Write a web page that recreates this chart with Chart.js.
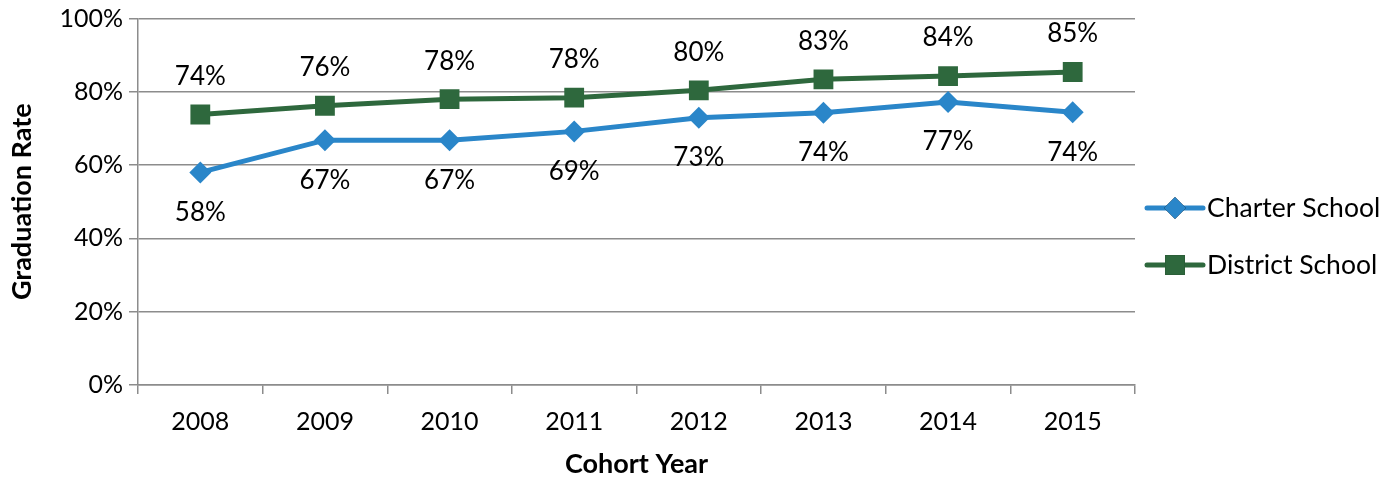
<!DOCTYPE html>
<html>
<head>
<meta charset="utf-8">
<script src="https://cdn.jsdelivr.net/npm/chart.js@4.4.1/dist/chart.umd.min.js"></script>
<style>
  html, body { margin: 0; padding: 0; background: #ffffff; }
  #wrap { width: 1400px; height: 480px; position: relative; }
</style>
</head>
<body>
<div id="wrap"><canvas id="c" width="1400" height="480"></canvas></div>
<script>
const years = ['2008', '2009', '2010', '2011', '2012', '2013', '2014', '2015'];
const charterRates = [58.0, 66.8, 66.8, 69.2, 72.9, 74.3, 77.2, 74.4];
const districtRates = [73.8, 76.2, 78.0, 78.4, 80.4, 83.4, 84.3, 85.4];
const seriesNames = ['Charter School', 'District School'];
const yTicks = [0, 20, 40, 60, 80, 100];

const FONT = 'Lato, "Open Sans", sans-serif';
const BLUE = '#2a86c9';
const GREEN = '#2e683d';
const GRID = '#8c8c8c';

const labelPlugin = {
  id: 'pointLabels',
  afterDatasetsDraw(chart) {
    const ctx = chart.ctx;
    ctx.save();
    ctx.font = '26px ' + FONT;
    ctx.fillStyle = '#000';
    ctx.textAlign = 'center';
    ctx.textBaseline = 'middle';
    chart.data.datasets.forEach((ds, i) => {
      const meta = chart.getDatasetMeta(i);
      meta.data.forEach((pt, j) => {
        const txt = Math.round(ds.data[j]) + '%';
        const dy = ds.labelPos === 'above' ? -38 : 40;
        ctx.fillText(txt, pt.x, pt.y + dy);
      });
    });
    ctx.restore();
  }
};

const legendPlugin = {
  id: 'customLegend',
  afterDraw(chart) {
    const ctx = chart.ctx;
    const x0 = 1147, x1 = 1203, mx = 1175;
    const rows = [208, 265];
    ctx.save();
    chart.data.datasets.forEach((ds, i) => {
      const y = rows[i];
      ctx.strokeStyle = ds.borderColor;
      ctx.lineWidth = ds.borderWidth;
      ctx.lineCap = 'round';
      ctx.beginPath();
      ctx.moveTo(x0, y);
      ctx.lineTo(x1, y);
      ctx.stroke();
      Chart.helpers.drawPoint(ctx, {
        pointStyle: ds.pointStyle,
        radius: ds.pointRadius,
        borderWidth: 0
      }, mx, y);
      ctx.fillStyle = ds.backgroundColor;
      ctx.fill();
      ctx.fillStyle = '#000';
      ctx.font = '26.5px ' + FONT;
      ctx.textAlign = 'left';
      ctx.textBaseline = 'middle';
      ctx.fillText(ds.label, 1207, y);
    });
    ctx.restore();
  }
};

new Chart(document.getElementById('c'), {
  type: 'line',
  data: {
    labels: years,
    datasets: [
      {
        label: seriesNames[0],
        data: charterRates,
        borderColor: BLUE,
        backgroundColor: BLUE,
        borderWidth: 5,
        pointStyle: 'rectRot',
        pointRadius: 11,
        pointHoverRadius: 11,
        pointBorderWidth: 0,
        pointBackgroundColor: BLUE,
        tension: 0,
        labelPos: 'below'
      },
      {
        label: seriesNames[1],
        data: districtRates,
        borderColor: GREEN,
        backgroundColor: GREEN,
        borderWidth: 5,
        pointStyle: 'rect',
        pointRadius: 14,
        pointHoverRadius: 14,
        pointBorderWidth: 0,
        pointBackgroundColor: GREEN,
        tension: 0,
        labelPos: 'above'
      }
    ]
  },
  options: {
    responsive: false,
    animation: false,
    devicePixelRatio: 1,
    layout: { padding: { top: 18, right: 265, left: 0, bottom: 0 } },
    plugins: {
      legend: { display: false },
      tooltip: { enabled: false }
    },
    scales: {
      x: {
        offset: true,
        grid: {
          offset: true,
          display: true,
          drawOnChartArea: false,
          drawTicks: true,
          tickLength: 9,
          color: GRID,
          lineWidth: 1.5
        },
        border: { display: true, color: GRID, width: 1.5 },
        ticks: {
          color: '#000',
          font: { family: FONT, size: 25 },
          padding: 13,
          maxRotation: 0
        },
        title: {
          display: true,
          text: 'Cohort Year',
          color: '#000',
          font: { family: FONT, size: 27, weight: 'bold' },
          padding: { top: 0, bottom: 0 }
        },
        afterFit(scale) { scale.height = 95; }
      },
      y: {
        min: 0,
        max: 100,
        afterBuildTicks(scale) { scale.ticks = yTicks.map(v => ({ value: v })); },
        grid: {
          color: GRID,
          lineWidth: 1.5,
          drawTicks: true,
          tickLength: 9
        },
        border: { display: true, color: GRID, width: 1.5 },
        ticks: {
          color: '#000',
          font: { family: FONT, size: 25, lineHeight: 1.0 },
          padding: 6,
          callback: v => v + '%'
        },
        title: {
          display: true,
          text: 'Graduation Rate',
          color: '#000',
          font: { family: FONT, size: 27, weight: 'bold' },
          padding: { top: 6, bottom: 0 }
        },
        afterFit(scale) { scale.width = 138; }
      }
    }
  },
  plugins: [labelPlugin, legendPlugin]
});
</script>
</body>
</html>
